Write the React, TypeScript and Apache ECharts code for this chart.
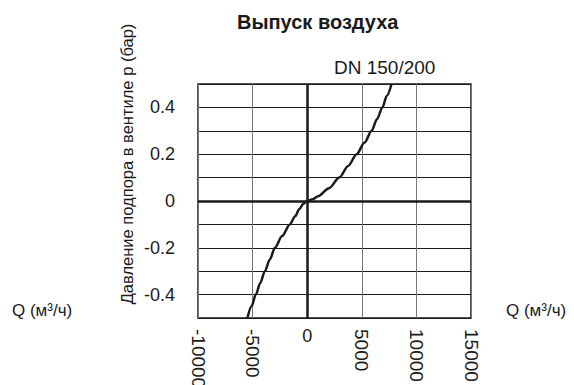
import React, { useEffect, useRef } from "react";
import * as echarts from "echarts";

const posQ = [0, 500, 1000, 2000, 2940, 3750, 4530, 5250, 5900, 6400, 6880, 7300, 7720];
const posP = [0, 0.007, 0.02, 0.055, 0.1, 0.15, 0.2, 0.25, 0.3, 0.35, 0.4, 0.45, 0.5];
const negQ = [-5470, -5100, -4700, -4300, -3880, -3420, -2960, -2300, -1590, -1100, -730, -350, 0];
const negP = [-0.5, -0.45, -0.4, -0.35, -0.3, -0.25, -0.2, -0.15, -0.1, -0.065, -0.035, -0.012, 0];
const yTickLabels = ["-0.4", "-0.2", "0", "0.2", "0.4"];

const FONT = "'Liberation Sans', Arial, sans-serif";

export default function App() {
  const ref = useRef<HTMLDivElement>(null);
  useEffect(() => {
    document.body.style.margin = "0";
    if (!ref.current) return;
    const chart = echarts.init(ref.current, null, { renderer: "svg" });
    const data: number[][] = [];
    negQ.forEach((q, i) => data.push([q, negP[i]]));
    posQ.forEach((q, i) => { if (i > 0) data.push([q, posP[i]]); });
    chart.setOption({
      animation: false,
      backgroundColor: "#fff",
      textStyle: { fontFamily: FONT },
      title: {
        text: "Выпуск воздуха",
        left: 232,
        top: 7,
        textStyle: { fontFamily: FONT, fontSize: 20, fontWeight: "bold", color: "#1a1a1a" },
      },
      grid: {
        left: 198, right: 103, top: 84, bottom: 67, containLabel: false, outerBoundsMode: "none",
        show: true, borderColor: "#1a1a1a", borderWidth: 1.5, backgroundColor: "transparent",
      },
      xAxis: [
        {
          type: "value", min: -10000, max: 15000, interval: 5000,
          axisLine: { show: false }, axisTick: { show: false },
          splitLine: { show: true, lineStyle: { color: "#777", width: 1 } },
          axisLabel: {
            rotate: -90, margin: 11, fontSize: 19, color: "#1a1a1a", fontFamily: FONT,
            formatter: (v: number) => (v === 0 ? "" : String(v)),
          },
        },
        {
          type: "value", min: -10000, max: 15000, interval: 5000, position: "bottom",
          axisLine: { show: false }, axisTick: { show: false }, splitLine: { show: false },
          axisLabel: {
            margin: 9, fontSize: 18, color: "#1a1a1a", fontFamily: FONT,
            formatter: (v: number) => (v === 0 ? "0" : ""),
          },
        },
      ],
      yAxis: {
        type: "value", min: -0.5, max: 0.5, interval: 0.1,
        axisLine: { show: false }, axisTick: { show: false },
        splitLine: { show: true, lineStyle: { color: "#1a1a1a", width: 1 } },
        axisLabel: {
          margin: 23, fontSize: 18, color: "#1a1a1a", fontFamily: FONT,
          formatter: (v: number) => {
            const s = v === 0 ? "0" : (Math.round(v * 10) / 10).toFixed(1);
            return yTickLabels.includes(s) ? s : "";
          },
        },
      },
      graphic: [
        {
          type: "text", x: 127, y: 164, rotation: Math.PI / 2,
          style: { text: "Давление подпора в вентиле р (бар)", fontSize: 16.5, fontFamily: FONT, fill: "#1a1a1a", textAlign: "center", textVerticalAlign: "middle" },
        },
        {
          type: "text", x: 334, y: 67,
          style: { text: "DN 150/200", fontSize: 19, fontFamily: FONT, fill: "#1a1a1a", textAlign: "left", textVerticalAlign: "middle" },
        },
        {
          type: "text", x: 12, y: 310,
          style: { text: "Q (м³/ч)", fontSize: 17, fontFamily: FONT, fill: "#1a1a1a", textAlign: "left", textVerticalAlign: "middle" },
        },
        {
          type: "text", x: 506, y: 310,
          style: { text: "Q (м³/ч)", fontSize: 17, fontFamily: FONT, fill: "#1a1a1a", textAlign: "left", textVerticalAlign: "middle" },
        },
      ],
      series: [
        {
          type: "line", xAxisIndex: 0, data, smooth: 0.3, smoothMonotone: "x", symbol: "none",
          lineStyle: { color: "#1a1a1a", width: 2.5 },
          markLine: {
            silent: true, symbol: "none", label: { show: false },
            lineStyle: { color: "#1a1a1a", width: 2.5, type: "solid" },
            data: [{ xAxis: 0 }, { yAxis: 0 }],
          },
        },
      ],
    });
    return () => chart.dispose();
  }, []);
  return <div ref={ref} style={{ width: 574, height: 385 }} />;
}
